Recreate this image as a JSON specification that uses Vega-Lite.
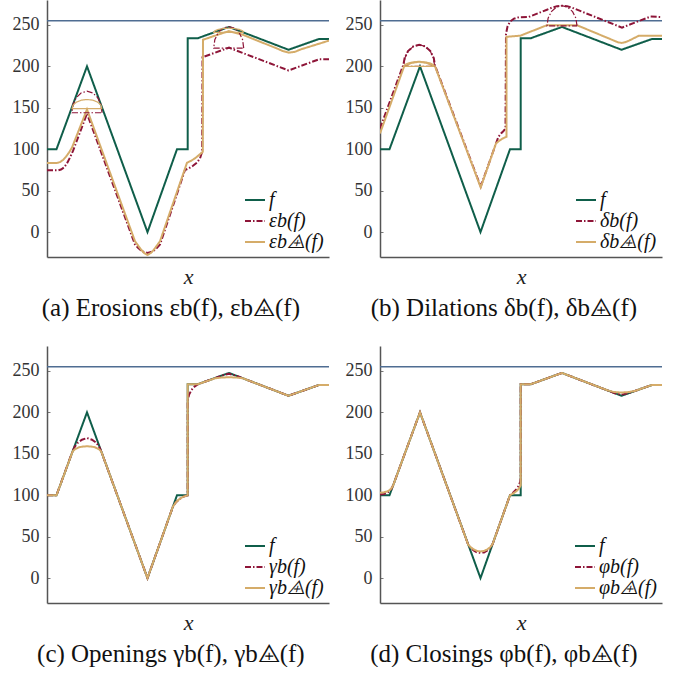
{
  "$schema": "https://vega.github.io/schema/vega-lite/v6.json",
  "background": "white",
  "padding": {"left": 12, "top": 0, "right": 0, "bottom": 0},
  "columns": 2,
  "spacing": {"row": 25, "column": 15},
  "resolve": {
    "scale": {"color": "independent", "strokeDash": "independent"},
    "legend": {"color": "independent", "strokeDash": "independent"}
  },
  "datasets": {
    "f": [
      {"s": "f", "x": 0, "y": 100}, {"s": "f", "x": 9.5, "y": 100}, {"s": "f", "x": 40, "y": 200},
      {"s": "f", "x": 100.5, "y": 0}, {"s": "f", "x": 130, "y": 100}, {"s": "f", "x": 140.7, "y": 100},
      {"s": "f", "x": 140.7, "y": 234}, {"s": "f", "x": 151, "y": 234}, {"s": "f", "x": 182, "y": 247.5},
      {"s": "f", "x": 241.5, "y": 220}, {"s": "f", "x": 272, "y": 233}, {"s": "f", "x": 282, "y": 233}
    ],
    "a": [
      {"s": "εb(f)", "x": 0, "y": 74.5}, {"s": "εb(f)", "x": 11, "y": 74.5}, {"s": "εb(f)", "x": 14, "y": 75.5},
      {"s": "εb(f)", "x": 17, "y": 78}, {"s": "εb(f)", "x": 20, "y": 83}, {"s": "εb(f)", "x": 23, "y": 90},
      {"s": "εb(f)", "x": 26, "y": 98}, {"s": "εb(f)", "x": 40, "y": 143}, {"s": "εb(f)", "x": 88, "y": -15},
      {"s": "εb(f)", "x": 91, "y": -19}, {"s": "εb(f)", "x": 94, "y": -22}, {"s": "εb(f)", "x": 97, "y": -24},
      {"s": "εb(f)", "x": 100.5, "y": -25}, {"s": "εb(f)", "x": 104, "y": -24}, {"s": "εb(f)", "x": 107, "y": -22},
      {"s": "εb(f)", "x": 110, "y": -19}, {"s": "εb(f)", "x": 113, "y": -15}, {"s": "εb(f)", "x": 138, "y": 75},
      {"s": "εb(f)", "x": 142, "y": 77}, {"s": "εb(f)", "x": 146, "y": 80}, {"s": "εb(f)", "x": 150, "y": 84},
      {"s": "εb(f)", "x": 153, "y": 89}, {"s": "εb(f)", "x": 155.2, "y": 97}, {"s": "εb(f)", "x": 155.5, "y": 211},
      {"s": "εb(f)", "x": 182, "y": 222.5}, {"s": "εb(f)", "x": 241.5, "y": 195}, {"s": "εb(f)", "x": 272, "y": 208.5},
      {"s": "εb(f)", "x": 282, "y": 208.5},
      {"s": "εb⨹(f)", "x": 0, "y": 83.4}, {"s": "εb⨹(f)", "x": 10, "y": 83.4}, {"s": "εb⨹(f)", "x": 13, "y": 84.5},
      {"s": "εb⨹(f)", "x": 16, "y": 87}, {"s": "εb⨹(f)", "x": 19, "y": 91}, {"s": "εb⨹(f)", "x": 22, "y": 96},
      {"s": "εb⨹(f)", "x": 25, "y": 102}, {"s": "εb⨹(f)", "x": 40, "y": 148}, {"s": "εb⨹(f)", "x": 88, "y": -11},
      {"s": "εb⨹(f)", "x": 91, "y": -16}, {"s": "εb⨹(f)", "x": 94, "y": -21}, {"s": "εb⨹(f)", "x": 97, "y": -25},
      {"s": "εb⨹(f)", "x": 100.5, "y": -27.5}, {"s": "εb⨹(f)", "x": 104, "y": -25}, {"s": "εb⨹(f)", "x": 107, "y": -21},
      {"s": "εb⨹(f)", "x": 110, "y": -16}, {"s": "εb⨹(f)", "x": 113, "y": -11}, {"s": "εb⨹(f)", "x": 140, "y": 83.7},
      {"s": "εb⨹(f)", "x": 144, "y": 86}, {"s": "εb⨹(f)", "x": 148, "y": 89}, {"s": "εb⨹(f)", "x": 151, "y": 92},
      {"s": "εb⨹(f)", "x": 154, "y": 95}, {"s": "εb⨹(f)", "x": 155.8, "y": 97}, {"s": "εb⨹(f)", "x": 156, "y": 232},
      {"s": "εb⨹(f)", "x": 168, "y": 237}, {"s": "εb⨹(f)", "x": 182, "y": 242.5}, {"s": "εb⨹(f)", "x": 196, "y": 238},
      {"s": "εb⨹(f)", "x": 230, "y": 221.5}, {"s": "εb⨹(f)", "x": 236, "y": 218.3}, {"s": "εb⨹(f)", "x": 242, "y": 216.5},
      {"s": "εb⨹(f)", "x": 248, "y": 217.5}, {"s": "εb⨹(f)", "x": 254, "y": 220.5}, {"s": "εb⨹(f)", "x": 282, "y": 231}
    ],
    "aSE": [
      {"s": "εb(f)", "g": "r1", "x": 55, "y": 144}, {"s": "εb(f)", "g": "r1", "x": 53.9, "y": 154},
      {"s": "εb(f)", "g": "r1", "x": 50.6, "y": 162.4}, {"s": "εb(f)", "g": "r1", "x": 45.7, "y": 168},
      {"s": "εb(f)", "g": "r1", "x": 40, "y": 170}, {"s": "εb(f)", "g": "r1", "x": 34.3, "y": 168},
      {"s": "εb(f)", "g": "r1", "x": 29.4, "y": 162.4}, {"s": "εb(f)", "g": "r1", "x": 26.1, "y": 154},
      {"s": "εb(f)", "g": "r1", "x": 25, "y": 144}, {"s": "εb(f)", "g": "r1", "x": 55, "y": 144},
      {"s": "εb⨹(f)", "g": "t1", "x": 55, "y": 149}, {"s": "εb⨹(f)", "g": "t1", "x": 53.9, "y": 153.2},
      {"s": "εb⨹(f)", "g": "t1", "x": 50.6, "y": 156.8}, {"s": "εb⨹(f)", "g": "t1", "x": 45.7, "y": 159.2},
      {"s": "εb⨹(f)", "g": "t1", "x": 40, "y": 160}, {"s": "εb⨹(f)", "g": "t1", "x": 34.3, "y": 159.2},
      {"s": "εb⨹(f)", "g": "t1", "x": 29.4, "y": 156.8}, {"s": "εb⨹(f)", "g": "t1", "x": 26.1, "y": 153.2},
      {"s": "εb⨹(f)", "g": "t1", "x": 25, "y": 149}, {"s": "εb⨹(f)", "g": "t1", "x": 55, "y": 149},
      {"s": "εb(f)", "g": "r2", "x": 196.7, "y": 222}, {"s": "εb(f)", "g": "r2", "x": 195.6, "y": 232},
      {"s": "εb(f)", "g": "r2", "x": 192.3, "y": 240.4}, {"s": "εb(f)", "g": "r2", "x": 187.4, "y": 246},
      {"s": "εb(f)", "g": "r2", "x": 181.7, "y": 248}, {"s": "εb(f)", "g": "r2", "x": 176, "y": 246},
      {"s": "εb(f)", "g": "r2", "x": 171.1, "y": 240.4}, {"s": "εb(f)", "g": "r2", "x": 167.8, "y": 232},
      {"s": "εb(f)", "g": "r2", "x": 166.7, "y": 222}, {"s": "εb(f)", "g": "r2", "x": 196.7, "y": 222},
      {"s": "εb⨹(f)", "g": "t2", "x": 196.7, "y": 241}, {"s": "εb⨹(f)", "g": "t2", "x": 195.6, "y": 242.9},
      {"s": "εb⨹(f)", "g": "t2", "x": 192.3, "y": 244.5}, {"s": "εb⨹(f)", "g": "t2", "x": 187.4, "y": 245.6},
      {"s": "εb⨹(f)", "g": "t2", "x": 181.7, "y": 246}, {"s": "εb⨹(f)", "g": "t2", "x": 176, "y": 245.6},
      {"s": "εb⨹(f)", "g": "t2", "x": 171.1, "y": 244.5}, {"s": "εb⨹(f)", "g": "t2", "x": 167.8, "y": 242.9},
      {"s": "εb⨹(f)", "g": "t2", "x": 166.7, "y": 241}, {"s": "εb⨹(f)", "g": "t2", "x": 196.7, "y": 241}
    ],
    "b": [
      {"s": "δb(f)", "x": 0, "y": 125}, {"s": "δb(f)", "x": 23.4, "y": 202}, {"s": "δb(f)", "x": 24.6, "y": 209.9},
      {"s": "δb(f)", "x": 28, "y": 218.4}, {"s": "δb(f)", "x": 33.2, "y": 224}, {"s": "δb(f)", "x": 39.2, "y": 226},
      {"s": "δb(f)", "x": 45.2, "y": 224}, {"s": "δb(f)", "x": 50.4, "y": 218.4}, {"s": "δb(f)", "x": 53.8, "y": 209.9},
      {"s": "δb(f)", "x": 55, "y": 201}, {"s": "δb(f)", "x": 100.7, "y": 55}, {"s": "δb(f)", "x": 118.4, "y": 115},
      {"s": "δb(f)", "x": 121, "y": 119}, {"s": "δb(f)", "x": 123.5, "y": 122}, {"s": "δb(f)", "x": 125.5, "y": 125},
      {"s": "δb(f)", "x": 126, "y": 239}, {"s": "δb(f)", "x": 127.5, "y": 248}, {"s": "δb(f)", "x": 130, "y": 254},
      {"s": "δb(f)", "x": 134, "y": 257.5}, {"s": "δb(f)", "x": 139, "y": 259.3}, {"s": "δb(f)", "x": 148.7, "y": 259.5},
      {"s": "δb(f)", "x": 167, "y": 268.3}, {"s": "δb(f)", "x": 172, "y": 270.8}, {"s": "δb(f)", "x": 177, "y": 272.6},
      {"s": "δb(f)", "x": 182, "y": 273.2}, {"s": "δb(f)", "x": 187, "y": 272.6}, {"s": "δb(f)", "x": 192, "y": 270.8},
      {"s": "δb(f)", "x": 197, "y": 268.3}, {"s": "δb(f)", "x": 242, "y": 246.7}, {"s": "δb(f)", "x": 270.4, "y": 260},
      {"s": "δb(f)", "x": 282, "y": 259.5},
      {"s": "δb⨹(f)", "x": 0, "y": 119}, {"s": "δb⨹(f)", "x": 24, "y": 199.6}, {"s": "δb⨹(f)", "x": 31, "y": 204},
      {"s": "δb⨹(f)", "x": 39, "y": 205.6}, {"s": "δb⨹(f)", "x": 47, "y": 204}, {"s": "δb⨹(f)", "x": 55, "y": 200},
      {"s": "δb⨹(f)", "x": 100.7, "y": 54}, {"s": "δb⨹(f)", "x": 116, "y": 107}, {"s": "δb⨹(f)", "x": 119, "y": 110},
      {"s": "δb⨹(f)", "x": 122, "y": 112.5}, {"s": "δb⨹(f)", "x": 125, "y": 114.3}, {"s": "δb⨹(f)", "x": 126.5, "y": 115},
      {"s": "δb⨹(f)", "x": 126.5, "y": 235.6}, {"s": "δb⨹(f)", "x": 140.4, "y": 237}, {"s": "δb⨹(f)", "x": 167, "y": 249.6},
      {"s": "δb⨹(f)", "x": 197, "y": 249.6}, {"s": "δb⨹(f)", "x": 234, "y": 231}, {"s": "δb⨹(f)", "x": 238, "y": 229},
      {"s": "δb⨹(f)", "x": 241.5, "y": 228.2}, {"s": "δb⨹(f)", "x": 245, "y": 229}, {"s": "δb⨹(f)", "x": 249, "y": 231},
      {"s": "δb⨹(f)", "x": 258.7, "y": 236.8}, {"s": "δb⨹(f)", "x": 282, "y": 237}
    ],
    "bSE": [
      {"s": "δb(f)", "g": "r1", "x": 54.7, "y": 200}, {"s": "δb(f)", "g": "r1", "x": 53.5, "y": 210},
      {"s": "δb(f)", "g": "r1", "x": 50.2, "y": 218.4}, {"s": "δb(f)", "g": "r1", "x": 45.1, "y": 224},
      {"s": "δb(f)", "g": "r1", "x": 39.2, "y": 226}, {"s": "δb(f)", "g": "r1", "x": 33.3, "y": 224},
      {"s": "δb(f)", "g": "r1", "x": 28.2, "y": 218.4}, {"s": "δb(f)", "g": "r1", "x": 24.9, "y": 210},
      {"s": "δb(f)", "g": "r1", "x": 23.7, "y": 200}, {"s": "δb(f)", "g": "r1", "x": 54.7, "y": 200},
      {"s": "δb⨹(f)", "g": "t1", "x": 54.7, "y": 200}, {"s": "δb⨹(f)", "g": "t1", "x": 53.5, "y": 202.1},
      {"s": "δb⨹(f)", "g": "t1", "x": 50.2, "y": 204}, {"s": "δb⨹(f)", "g": "t1", "x": 45.1, "y": 205.2},
      {"s": "δb⨹(f)", "g": "t1", "x": 39.2, "y": 205.6}, {"s": "δb⨹(f)", "g": "t1", "x": 33.3, "y": 205.2},
      {"s": "δb⨹(f)", "g": "t1", "x": 28.2, "y": 204}, {"s": "δb⨹(f)", "g": "t1", "x": 24.9, "y": 202.1},
      {"s": "δb⨹(f)", "g": "t1", "x": 23.7, "y": 200}, {"s": "δb⨹(f)", "g": "t1", "x": 54.7, "y": 200},
      {"s": "δb(f)", "g": "r2", "x": 197, "y": 248.7}, {"s": "δb(f)", "g": "r2", "x": 195.9, "y": 258.1},
      {"s": "δb(f)", "g": "r2", "x": 192.6, "y": 266}, {"s": "δb(f)", "g": "r2", "x": 187.7, "y": 271.3},
      {"s": "δb(f)", "g": "r2", "x": 182, "y": 273.2}, {"s": "δb(f)", "g": "r2", "x": 176.3, "y": 271.3},
      {"s": "δb(f)", "g": "r2", "x": 171.4, "y": 266}, {"s": "δb(f)", "g": "r2", "x": 168.1, "y": 258.1},
      {"s": "δb(f)", "g": "r2", "x": 167, "y": 248.7}, {"s": "δb(f)", "g": "r2", "x": 197, "y": 248.7}
    ],
    "c": [
      {"s": "γb(f)", "x": 0, "y": 100}, {"s": "γb(f)", "x": 9.5, "y": 100}, {"s": "γb(f)", "x": 25.7, "y": 153.5},
      {"s": "γb(f)", "x": 28, "y": 159}, {"s": "γb(f)", "x": 31, "y": 163.5}, {"s": "γb(f)", "x": 35, "y": 167},
      {"s": "γb(f)", "x": 40, "y": 169}, {"s": "γb(f)", "x": 45, "y": 167}, {"s": "γb(f)", "x": 49, "y": 163.5},
      {"s": "γb(f)", "x": 52, "y": 159}, {"s": "γb(f)", "x": 54.3, "y": 152.7}, {"s": "γb(f)", "x": 100.5, "y": 0},
      {"s": "γb(f)", "x": 126, "y": 86.5}, {"s": "γb(f)", "x": 129, "y": 91.5}, {"s": "γb(f)", "x": 132, "y": 95},
      {"s": "γb(f)", "x": 136, "y": 98}, {"s": "γb(f)", "x": 140.7, "y": 100}, {"s": "γb(f)", "x": 140.7, "y": 214},
      {"s": "γb(f)", "x": 142, "y": 221}, {"s": "γb(f)", "x": 144.5, "y": 227}, {"s": "γb(f)", "x": 147.5, "y": 231},
      {"s": "γb(f)", "x": 151, "y": 234}, {"s": "γb(f)", "x": 176, "y": 244.7}, {"s": "γb(f)", "x": 182, "y": 246.5},
      {"s": "γb(f)", "x": 188, "y": 244.7}, {"s": "γb(f)", "x": 241.5, "y": 220}, {"s": "γb(f)", "x": 272, "y": 233},
      {"s": "γb(f)", "x": 282, "y": 233},
      {"s": "γb⨹(f)", "x": 0, "y": 100}, {"s": "γb⨹(f)", "x": 9.5, "y": 100}, {"s": "γb⨹(f)", "x": 25.7, "y": 153},
      {"s": "γb⨹(f)", "x": 28, "y": 155.5}, {"s": "γb⨹(f)", "x": 32, "y": 157.8}, {"s": "γb⨹(f)", "x": 36, "y": 158.8},
      {"s": "γb⨹(f)", "x": 40, "y": 159}, {"s": "γb⨹(f)", "x": 44, "y": 158.8}, {"s": "γb⨹(f)", "x": 48, "y": 157.8},
      {"s": "γb⨹(f)", "x": 52, "y": 155.5}, {"s": "γb⨹(f)", "x": 54.3, "y": 152.7}, {"s": "γb⨹(f)", "x": 100.5, "y": 0},
      {"s": "γb⨹(f)", "x": 126, "y": 86.5}, {"s": "γb⨹(f)", "x": 129, "y": 91.5}, {"s": "γb⨹(f)", "x": 132, "y": 95},
      {"s": "γb⨹(f)", "x": 136, "y": 98}, {"s": "γb⨹(f)", "x": 140.7, "y": 100}, {"s": "γb⨹(f)", "x": 140.7, "y": 234},
      {"s": "γb⨹(f)", "x": 151, "y": 234}, {"s": "γb⨹(f)", "x": 168, "y": 241}, {"s": "γb⨹(f)", "x": 175, "y": 242},
      {"s": "γb⨹(f)", "x": 182, "y": 242.3}, {"s": "γb⨹(f)", "x": 189, "y": 242}, {"s": "γb⨹(f)", "x": 196, "y": 241},
      {"s": "γb⨹(f)", "x": 241.5, "y": 220}, {"s": "γb⨹(f)", "x": 272, "y": 233}, {"s": "γb⨹(f)", "x": 282, "y": 233}
    ],
    "d": [
      {"s": "φb(f)", "x": 0, "y": 101}, {"s": "φb(f)", "x": 4, "y": 101.5}, {"s": "φb(f)", "x": 7, "y": 103},
      {"s": "φb(f)", "x": 9.5, "y": 105}, {"s": "φb(f)", "x": 11.5, "y": 108}, {"s": "φb(f)", "x": 13, "y": 111.5},
      {"s": "φb(f)", "x": 40, "y": 200}, {"s": "φb(f)", "x": 88.3, "y": 40}, {"s": "φb(f)", "x": 91, "y": 36},
      {"s": "φb(f)", "x": 94, "y": 33}, {"s": "φb(f)", "x": 97, "y": 31}, {"s": "φb(f)", "x": 100.5, "y": 30.5},
      {"s": "φb(f)", "x": 104, "y": 31}, {"s": "φb(f)", "x": 107, "y": 33}, {"s": "φb(f)", "x": 110, "y": 36},
      {"s": "φb(f)", "x": 112.7, "y": 41.4}, {"s": "φb(f)", "x": 130, "y": 100}, {"s": "φb(f)", "x": 133, "y": 103},
      {"s": "φb(f)", "x": 136, "y": 106.5}, {"s": "φb(f)", "x": 138.5, "y": 111}, {"s": "φb(f)", "x": 140.2, "y": 116},
      {"s": "φb(f)", "x": 140.7, "y": 121}, {"s": "φb(f)", "x": 140.7, "y": 234}, {"s": "φb(f)", "x": 151, "y": 234},
      {"s": "φb(f)", "x": 182, "y": 247.5}, {"s": "φb(f)", "x": 235, "y": 223}, {"s": "φb(f)", "x": 241.5, "y": 221.3},
      {"s": "φb(f)", "x": 248, "y": 223}, {"s": "φb(f)", "x": 272, "y": 233}, {"s": "φb(f)", "x": 282, "y": 233},
      {"s": "φb⨹(f)", "x": 0, "y": 103}, {"s": "φb⨹(f)", "x": 4, "y": 103.5}, {"s": "φb⨹(f)", "x": 7, "y": 104.5},
      {"s": "φb⨹(f)", "x": 9.5, "y": 106}, {"s": "φb⨹(f)", "x": 11.5, "y": 108.5}, {"s": "φb⨹(f)", "x": 13, "y": 111.5},
      {"s": "φb⨹(f)", "x": 40, "y": 200}, {"s": "φb⨹(f)", "x": 88.3, "y": 40}, {"s": "φb⨹(f)", "x": 91, "y": 37},
      {"s": "φb⨹(f)", "x": 94, "y": 34.5}, {"s": "φb⨹(f)", "x": 97, "y": 32.8}, {"s": "φb⨹(f)", "x": 100.5, "y": 32.2},
      {"s": "φb⨹(f)", "x": 104, "y": 32.8}, {"s": "φb⨹(f)", "x": 107, "y": 34.5}, {"s": "φb⨹(f)", "x": 110, "y": 37},
      {"s": "φb⨹(f)", "x": 112.7, "y": 41.4}, {"s": "φb⨹(f)", "x": 130, "y": 100}, {"s": "φb⨹(f)", "x": 133, "y": 102},
      {"s": "φb⨹(f)", "x": 136, "y": 104.5}, {"s": "φb⨹(f)", "x": 139, "y": 108}, {"s": "φb⨹(f)", "x": 140.7, "y": 112},
      {"s": "φb⨹(f)", "x": 140.7, "y": 234}, {"s": "φb⨹(f)", "x": 151, "y": 234}, {"s": "φb⨹(f)", "x": 182, "y": 247.5},
      {"s": "φb⨹(f)", "x": 228, "y": 226.3}, {"s": "φb⨹(f)", "x": 234, "y": 224.5}, {"s": "φb⨹(f)", "x": 241.5, "y": 223.8},
      {"s": "φb⨹(f)", "x": 249, "y": 224.5}, {"s": "φb⨹(f)", "x": 255, "y": 225.8}, {"s": "φb⨹(f)", "x": 272, "y": 233},
      {"s": "φb⨹(f)", "x": 282, "y": 233}
    ]
  },
  "concat": [
    {
      "width": 282, "height": 257,
      "title": "(a) Erosions εb(f), εb⨹(f)",
      "encoding": {"y": {"field": "y", "type": "quantitative", "scale": {"domain": [-30, 280], "nice": false}, "axis": {"title": null, "values": [0, 50, 100, 150, 200, 250]}}},
      "layer": [
        {"data": {"values": [{"y": 255}]}, "mark": {"type": "rule", "color": "#4f6d92", "strokeWidth": 1.5}, "encoding": {}},
        {"data": {"name": "f"}, "mark": {"type": "line", "strokeWidth": 2, "clip": true},
         "encoding": {
           "x": {"field": "x", "type": "quantitative", "scale": {"domain": [0, 282], "nice": false}, "axis": {"title": "x"}},
           "color": {"field": "s", "type": "nominal", "scale": {"domain": ["f", "εb(f)", "εb⨹(f)"], "range": ["#0f5e4a", "#8e1538", "#d5ac69"]}, "legend": {"title": null}},
           "strokeDash": {"field": "s", "type": "nominal", "scale": {"domain": ["f", "εb(f)", "εb⨹(f)"], "range": [[1, 0], [6, 2, 1.5, 2], [1, 0]]}, "legend": {"title": null}},
           "order": {"value": null}}},
        {"data": {"name": "a"}, "mark": {"type": "line", "strokeWidth": 2, "clip": true},
         "encoding": {
           "x": {"field": "x", "type": "quantitative"},
           "color": {"field": "s", "type": "nominal"},
           "strokeDash": {"field": "s", "type": "nominal"},
           "order": {"value": null}}},
        {"data": {"name": "aSE"}, "mark": {"type": "line", "strokeWidth": 1.2, "clip": true},
         "encoding": {
           "x": {"field": "x", "type": "quantitative"},
           "color": {"field": "s", "type": "nominal"},
           "strokeDash": {"field": "s", "type": "nominal"},
           "detail": {"field": "g"},
           "order": {"value": null}}}
      ]
    },
    {
      "width": 282, "height": 257,
      "title": "(b) Dilations δb(f), δb⨹(f)",
      "encoding": {"y": {"field": "y", "type": "quantitative", "scale": {"domain": [-30, 280], "nice": false}, "axis": {"title": null, "values": [0, 50, 100, 150, 200, 250]}}},
      "layer": [
        {"data": {"values": [{"y": 255}]}, "mark": {"type": "rule", "color": "#4f6d92", "strokeWidth": 1.5}, "encoding": {}},
        {"data": {"name": "f"}, "mark": {"type": "line", "strokeWidth": 2, "clip": true},
         "encoding": {
           "x": {"field": "x", "type": "quantitative", "scale": {"domain": [0, 282], "nice": false}, "axis": {"title": "x"}},
           "color": {"field": "s", "type": "nominal", "scale": {"domain": ["f", "δb(f)", "δb⨹(f)"], "range": ["#0f5e4a", "#8e1538", "#d5ac69"]}, "legend": {"title": null}},
           "strokeDash": {"field": "s", "type": "nominal", "scale": {"domain": ["f", "δb(f)", "δb⨹(f)"], "range": [[1, 0], [6, 2, 1.5, 2], [1, 0]]}, "legend": {"title": null}},
           "order": {"value": null}}},
        {"data": {"name": "b"}, "mark": {"type": "line", "strokeWidth": 2, "clip": true},
         "encoding": {
           "x": {"field": "x", "type": "quantitative"},
           "color": {"field": "s", "type": "nominal"},
           "strokeDash": {"field": "s", "type": "nominal"},
           "order": {"value": null}}},
        {"data": {"name": "bSE"}, "mark": {"type": "line", "strokeWidth": 1.2, "clip": true},
         "encoding": {
           "x": {"field": "x", "type": "quantitative"},
           "color": {"field": "s", "type": "nominal"},
           "strokeDash": {"field": "s", "type": "nominal"},
           "detail": {"field": "g"},
           "order": {"value": null}}}
      ]
    },
    {
      "width": 282, "height": 257,
      "title": "(c) Openings γb(f), γb⨹(f)",
      "encoding": {"y": {"field": "y", "type": "quantitative", "scale": {"domain": [-30, 280], "nice": false}, "axis": {"title": null, "values": [0, 50, 100, 150, 200, 250]}}},
      "layer": [
        {"data": {"values": [{"y": 255}]}, "mark": {"type": "rule", "color": "#4f6d92", "strokeWidth": 1.5}, "encoding": {}},
        {"data": {"name": "f"}, "mark": {"type": "line", "strokeWidth": 2, "clip": true},
         "encoding": {
           "x": {"field": "x", "type": "quantitative", "scale": {"domain": [0, 282], "nice": false}, "axis": {"title": "x"}},
           "color": {"field": "s", "type": "nominal", "scale": {"domain": ["f", "γb(f)", "γb⨹(f)"], "range": ["#0f5e4a", "#8e1538", "#d5ac69"]}, "legend": {"title": null}},
           "strokeDash": {"field": "s", "type": "nominal", "scale": {"domain": ["f", "γb(f)", "γb⨹(f)"], "range": [[1, 0], [6, 2, 1.5, 2], [1, 0]]}, "legend": {"title": null}},
           "order": {"value": null}}},
        {"data": {"name": "c"}, "mark": {"type": "line", "strokeWidth": 2, "clip": true},
         "encoding": {
           "x": {"field": "x", "type": "quantitative"},
           "color": {"field": "s", "type": "nominal"},
           "strokeDash": {"field": "s", "type": "nominal"},
           "order": {"value": null}}}
      ]
    },
    {
      "width": 282, "height": 257,
      "title": "(d) Closings φb(f), φb⨹(f)",
      "encoding": {"y": {"field": "y", "type": "quantitative", "scale": {"domain": [-30, 280], "nice": false}, "axis": {"title": null, "values": [0, 50, 100, 150, 200, 250]}}},
      "layer": [
        {"data": {"values": [{"y": 255}]}, "mark": {"type": "rule", "color": "#4f6d92", "strokeWidth": 1.5}, "encoding": {}},
        {"data": {"name": "f"}, "mark": {"type": "line", "strokeWidth": 2, "clip": true},
         "encoding": {
           "x": {"field": "x", "type": "quantitative", "scale": {"domain": [0, 282], "nice": false}, "axis": {"title": "x"}},
           "color": {"field": "s", "type": "nominal", "scale": {"domain": ["f", "φb(f)", "φb⨹(f)"], "range": ["#0f5e4a", "#8e1538", "#d5ac69"]}, "legend": {"title": null}},
           "strokeDash": {"field": "s", "type": "nominal", "scale": {"domain": ["f", "φb(f)", "φb⨹(f)"], "range": [[1, 0], [6, 2, 1.5, 2], [1, 0]]}, "legend": {"title": null}},
           "order": {"value": null}}},
        {"data": {"name": "d"}, "mark": {"type": "line", "strokeWidth": 2, "clip": true},
         "encoding": {
           "x": {"field": "x", "type": "quantitative"},
           "color": {"field": "s", "type": "nominal"},
           "strokeDash": {"field": "s", "type": "nominal"},
           "order": {"value": null}}}
      ]
    }
  ],
  "config": {
    "view": {"stroke": null},
    "axis": {"grid": false, "domainColor": "#555", "domainWidth": 1.5},
    "axisX": {"labels": false, "ticks": false, "titleFont": "Liberation Serif", "titleFontStyle": "italic", "titleFontWeight": "normal", "titleFontSize": 22, "titleColor": "#222", "titlePadding": 9},
    "axisY": {"labelFont": "Liberation Serif", "labelFontSize": 18, "labelColor": "#333", "tickColor": "#777", "tickSize": -3, "labelPadding": 11},
    "legend": {"orient": "bottom-right", "offset": 5, "padding": 0, "labelFont": "Liberation Serif", "labelFontStyle": "italic", "labelFontSize": 20, "labelColor": "#111", "labelLimit": 0, "labelOffset": 3, "symbolType": "stroke", "symbolSize": 400, "symbolStrokeWidth": 2, "rowPadding": 0},
    "title": {"orient": "bottom", "font": "Liberation Serif", "fontSize": 25, "fontWeight": "normal", "color": "#111", "offset": 9, "frame": "bounds", "anchor": "middle"}
  }
}
